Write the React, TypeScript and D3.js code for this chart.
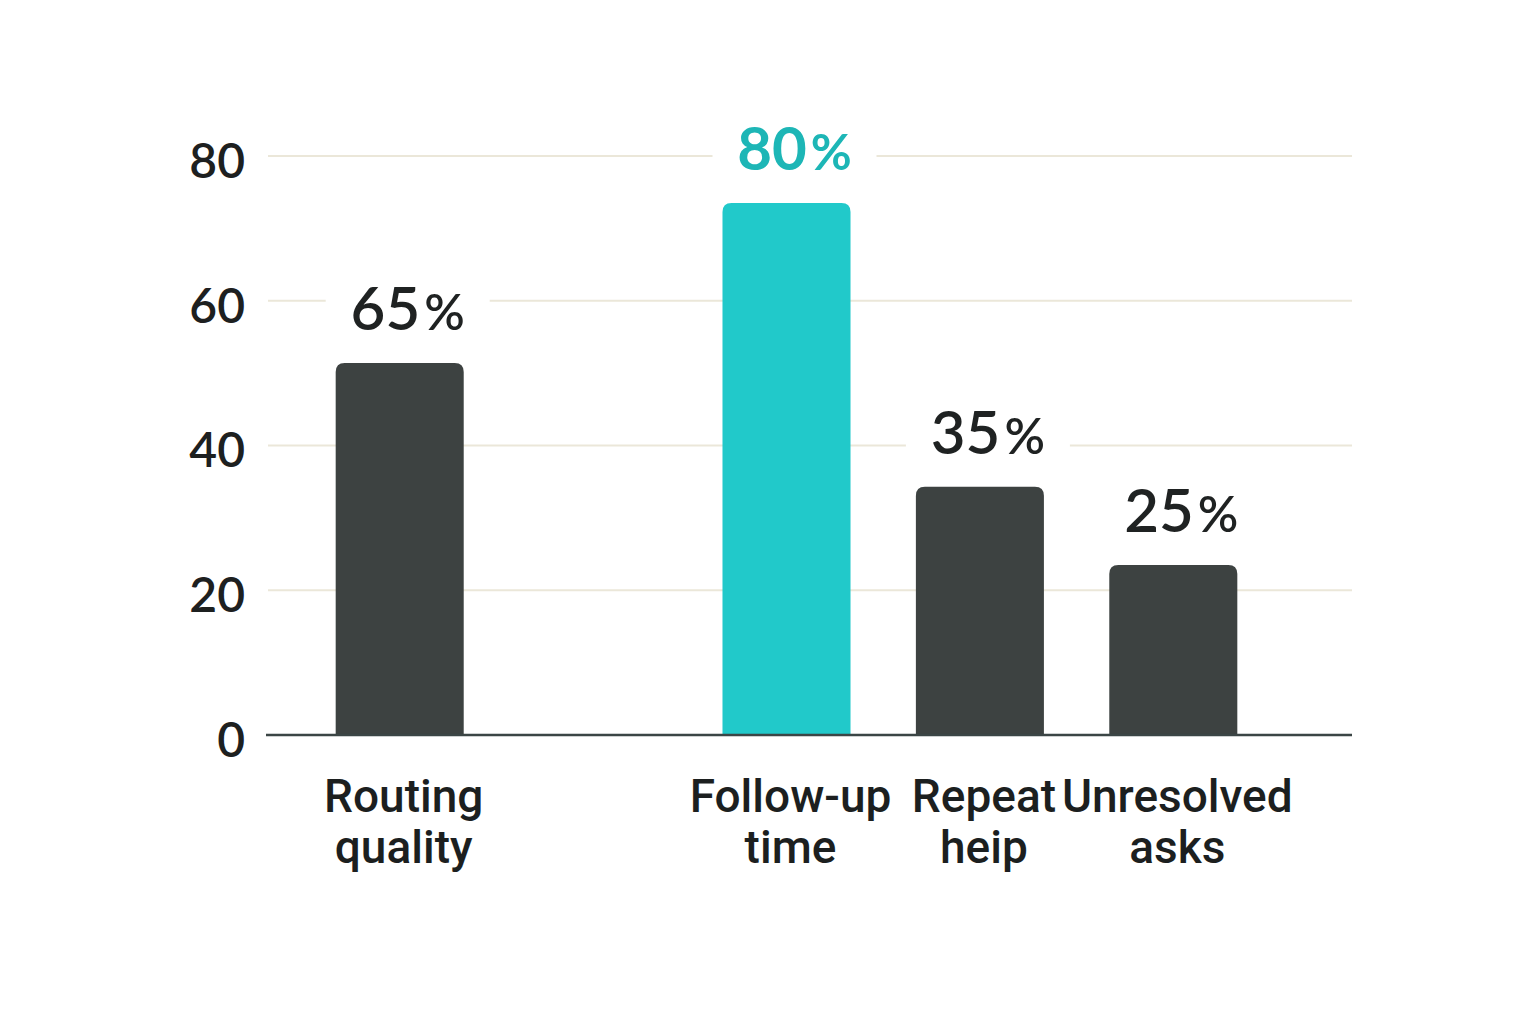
import React, { useEffect, useRef } from 'react';
import * as d3 from 'd3';

// chart data
const categories = ['Routing quality', 'Follow-up time', 'Repeat heip', 'Unresolved asks'];
const labelLines = [['Routing', 'quality'], ['Follow-up', 'time'], ['Repeat', 'heip'], ['Unresolved', 'asks']];
const barValues = [51.4, 73.5, 34.3, 23.5];
const valueLabels = ['65', '80', '35', '25'];
const highlighted = 'Follow-up time';
const yTicks = [0, 20, 40, 60, 80];
// an empty slot sits between the first and second bar
const slots = ['Routing quality', '', 'Follow-up time', 'Repeat heip', 'Unresolved asks'];

const W = 1536;
const H = 1024;

const App: React.FC = () => {
  const svgRef = useRef<SVGSVGElement>(null);

  useEffect(() => {
    if (!svgRef.current) return;
    const svg = d3.select(svgRef.current);
    svg.selectAll('*').remove();

    svg.append('rect').attr('width', W).attr('height', H).attr('fill', '#ffffff');

    const x = d3.scaleBand<string>().domain(slots).range([303, 1270]).paddingInner(0.338).paddingOuter(0.169);
    const y = d3.scaleLinear().domain([0, 80]).range([735, 156]);

    // gridlines
    yTicks.filter(t => t > 0).forEach(t => {
      svg.append('line')
        .attr('x1', 268).attr('x2', 1352)
        .attr('y1', y(t)).attr('y2', y(t))
        .attr('stroke', '#ebe7d9')
        .attr('stroke-width', 2);
    });

    // y tick labels
    yTicks.forEach(t => {
      svg.append('text')
        .attr('x', 245)
        .attr('y', y(t) + 5)
        .attr('dy', '0.35em')
        .attr('text-anchor', 'end')
        .attr('font-family', 'Lato, sans-serif')
        .attr('font-weight', 600)
        .attr('font-size', 48)
        .attr('fill', '#1d2020')
        .text(t);
    });

    const topRounded = (x0: number, y0: number, w: number, h: number, r: number) =>
      `M${x0},${y0 + h}V${y0 + r}Q${x0},${y0} ${x0 + r},${y0}H${x0 + w - r}Q${x0 + w},${y0} ${x0 + w},${y0 + r}V${y0 + h}Z`;

    categories.forEach((c, i) => {
      const bx = x(c)!;
      const bw = x.bandwidth();
      const top = y(barValues[i]);
      const isHi = c === highlighted;

      svg.append('path')
        .attr('d', topRounded(bx, top, bw, y(0) - top, 9))
        .attr('fill', isHi ? '#21c9ca' : '#3d4241');

      // value label with a white plate that breaks the gridline
      const cx = bx + bw / 2 + 8;
      const base = top - 33;
      svg.append('rect')
        .attr('x', cx - 82).attr('y', base - 50)
        .attr('width', 164).attr('height', 60)
        .attr('fill', '#ffffff');

      const t = svg.append('text')
        .attr('x', cx)
        .attr('y', base)
        .attr('text-anchor', 'middle')
        .attr('font-family', 'Lato, sans-serif')
        .attr('font-weight', isHi ? 700 : 600)
        .attr('fill', isHi ? '#1db6b6' : '#1f2222');
      t.append('tspan').attr('font-size', 60).text(valueLabels[i]);
      t.append('tspan').attr('font-size', 50).attr('dx', 4).text('%');

      // category label
      labelLines[i].forEach((line, j) => {
        svg.append('text')
          .attr('x', bx + bw / 2 + 4)
          .attr('y', 812 + j * 51)
          .attr('text-anchor', 'middle')
          .attr('font-family', 'Roboto, sans-serif')
          .attr('font-weight', 500)
          .attr('font-size', 46)
          .attr('fill', '#1c1f1f')
          .text(line);
      });
    });

    // baseline
    svg.append('line')
      .attr('x1', 266).attr('x2', 1352)
      .attr('y1', y(0)).attr('y2', y(0))
      .attr('stroke', '#3b4545')
      .attr('stroke-width', 2.5);
  }, []);

  return (
    <svg
      ref={svgRef}
      width={W}
      height={H}
      viewBox={`0 0 ${W} ${H}`}
      style={{ position: 'absolute', left: 0, top: 0 }}
    ></svg>
  );
};

export default App;
